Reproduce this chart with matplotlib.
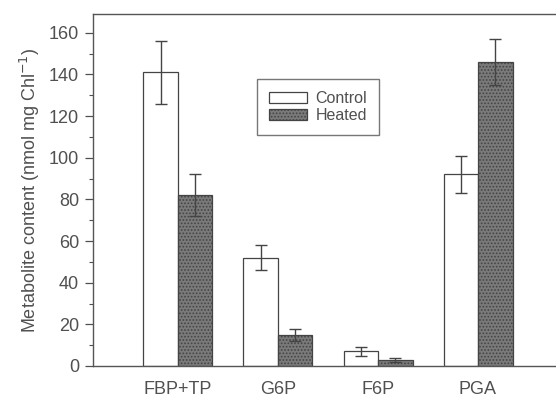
import numpy as np
import matplotlib
matplotlib.use("Agg")
import matplotlib.pyplot as plt

plt.rcParams['font.family'] = ['Liberation Sans', 'DejaVu Sans']
plt.rcParams['hatch.color'] = '#3a3a3a'
plt.rcParams['hatch.linewidth'] = 0.8

# data
categories = ["FBP+TP", "G6P", "F6P", "PGA"]
control = [141, 52, 7, 92]
control_err = [15, 6, 2, 9]
heated = [82, 15, 3, 146]
heated_err = [10, 3, 1, 11]
yticks = [0, 20, 40, 60, 80, 100, 120, 140, 160]

grey = '#505050'

fig = plt.figure(figsize=(5.56, 4.0), dpi=100)
# right side of the original is cropped, so the axes run past the figure edge
ax = fig.add_axes([93 / 556, 34 / 400, 470 / 556, 352 / 400])

x = np.arange(len(categories))
w = 0.345

ax.bar(x - w / 2, control, w, color='white', edgecolor='#444444', linewidth=0.9,
       label='Control', zorder=2)
ax.bar(x + w / 2, heated, w, color='#7a7a7a', edgecolor='#444444', linewidth=0.9,
       hatch='.....', label='Heated', zorder=2)
ax.errorbar(x - w / 2, control, yerr=control_err, fmt='none', ecolor='#444444',
            elinewidth=1.0, capsize=4, capthick=1.0, zorder=3)
ax.errorbar(x + w / 2, heated, yerr=heated_err, fmt='none', ecolor='#444444',
            elinewidth=1.0, capsize=4, capthick=1.0, zorder=3)

ax.set_xlim(-0.85, 3.85)
ax.set_ylim(0, 169)
ax.set_yticks(yticks)
ax.set_yticks(np.arange(10, 170, 20), minor=True)
ax.set_xticks(x)
ax.set_xticklabels(categories)
ax.tick_params(axis='x', length=0, pad=11, labelsize=13, colors=grey)
ax.tick_params(axis='y', which='major', length=6, width=0.9, labelsize=13,
               colors=grey, pad=4)
ax.tick_params(axis='y', which='minor', length=3, width=0.8, colors=grey)
for s in ax.spines.values():
    s.set_color('#555555')
    s.set_linewidth(1.0)

ax.set_ylabel('Metabolite content (nmol mg Chl$^{-1}$)', fontsize=13,
              color=grey, labelpad=5)

leg = ax.legend(loc='upper left', bbox_to_anchor=((257 - 93) / 470, (400 - 34 - 79) / 352),
                borderaxespad=0, fontsize=11.5, frameon=True, fancybox=False,
                edgecolor='#555555', handlelength=2.4, handleheight=0.7,
                borderpad=0.75, labelspacing=0.15, handletextpad=0.5)
leg.get_frame().set_linewidth(1.0)
for t in leg.get_texts():
    t.set_color(grey)

fig.savefig('out.png', dpi=100)
